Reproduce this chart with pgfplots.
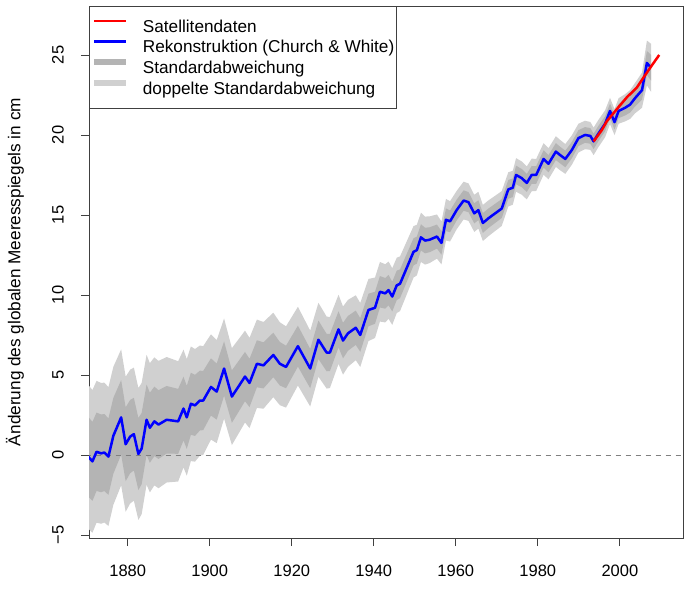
\documentclass[border=0pt]{standalone}
\usepackage{fontspec}
\setmainfont{Liberation Sans}
\usepackage{pgfplots}
\pgfplotsset{compat=1.18}
\usepgfplotslibrary{fillbetween}
\usepackage{pgfplotstable}
\definecolor{band1}{HTML}{B4B4B4}
\definecolor{band2}{HTML}{D0D0D0}
\definecolor{axisgray}{HTML}{404040}
\definecolor{lblue}{HTML}{0000FF}
\definecolor{lred}{HTML}{FF0000}
\newcommand\ff{\fontsize{16.5pt}{19pt}\selectfont}
\newcommand\fl{\fontsize{17.2pt}{20pt}\selectfont}

\pgfplotstableread{
year v s1 s2
1870.0 0.00 2.50 4.50
1871.4 -0.40 2.47 4.46
1872.4 0.20 2.45 4.43
1873.5 0.10 2.43 4.40
1874.3 0.15 2.41 4.37
1875.3 -0.10 2.39 4.34
1876.5 1.20 2.37 4.31
1878.4 2.35 2.33 4.25
1879.5 0.67 2.31 4.22
1880.6 1.15 2.29 4.18
1881.5 1.30 2.27 4.16
1882.6 0.06 2.25 4.12
1883.4 0.40 2.23 4.10
1884.6 2.20 2.20 4.06
1885.4 1.70 2.19 4.04
1886.5 2.10 2.17 4.00
1887.5 1.90 2.15 3.98
1889.5 2.20 2.11 3.92
1892.3 2.10 2.03 3.76
1893.6 2.90 1.99 3.68
1894.4 2.35 1.97 3.64
1895.4 3.20 1.94 3.58
1896.4 3.10 1.91 3.52
1897.6 3.40 1.87 3.44
1898.4 3.40 1.85 3.40
1900.3 4.25 1.79 3.29
1901.7 3.96 1.75 3.22
1903.5 5.40 1.70 3.13
1905.4 3.65 1.64 3.03
1907.0 4.27 1.59 2.95
1908.6 4.90 1.54 2.87
1909.7 4.50 1.51 2.82
1911.5 5.70 1.47 2.76
1913.1 5.60 1.44 2.71
1915.5 6.25 1.39 2.64
1917.1 5.70 1.36 2.59
1918.6 5.50 1.33 2.54
1921.5 6.80 1.28 2.46
1924.5 5.40 1.23 2.37
1926.5 7.20 1.20 2.31
1928.5 6.40 1.17 2.25
1929.3 6.40 1.16 2.22
1931.4 7.85 1.13 2.16
1932.5 7.15 1.11 2.13
1933.7 7.60 1.09 2.09
1935.6 7.95 1.07 2.03
1936.7 7.50 1.05 2.00
1938.7 9.06 1.02 1.94
1940.3 9.20 1.00 1.89
1941.5 10.20 0.98 1.86
1942.8 10.10 0.96 1.82
1943.6 10.30 0.95 1.79
1944.5 9.90 0.93 1.77
1945.6 10.60 0.92 1.73
1946.4 10.70 0.90 1.71
1949.7 12.70 0.85 1.61
1950.5 12.80 0.84 1.58
1951.5 13.60 0.82 1.54
1952.5 13.40 0.80 1.50
1953.6 13.45 0.78 1.46
1955.4 13.65 0.75 1.38
1956.5 13.25 0.73 1.34
1957.6 14.70 0.71 1.30
1958.6 14.60 0.68 1.26
1960.2 15.30 0.65 1.20
1961.9 15.90 0.64 1.18
1963.1 15.80 0.63 1.17
1964.5 15.10 0.63 1.16
1965.5 15.30 0.62 1.15
1966.6 14.50 0.62 1.13
1968.0 14.80 0.61 1.12
1969.6 15.10 0.60 1.10
1971.2 15.40 0.59 1.09
1972.8 16.60 0.59 1.07
1973.9 16.70 0.58 1.06
1974.7 17.50 0.58 1.05
1976.1 17.30 0.57 1.04
1977.3 17.00 0.56 1.03
1978.5 17.50 0.56 1.02
1979.6 17.50 0.55 1.00
1981.4 18.50 0.54 0.99
1982.6 18.20 0.54 0.97
1984.4 18.96 0.53 0.96
1985.4 18.75 0.52 0.95
1986.7 18.50 0.52 0.93
1988.3 19.06 0.51 0.92
1989.9 19.80 0.50 0.90
1991.5 20.00 0.49 0.89
1992.8 19.94 0.49 0.87
1993.6 19.60 0.48 0.86
1994.8 20.10 0.48 0.85
1996.4 20.70 0.47 0.84
1997.6 21.50 0.46 0.82
1998.7 20.80 0.46 0.81
1999.7 21.50 0.45 0.80
2001.3 21.70 0.48 0.85
2002.5 21.90 0.50 0.90
2003.7 22.30 0.52 0.95
2005.4 22.80 0.60 1.10
2006.6 24.50 0.75 1.40
2007.6 24.20 0.80 1.50
}\recon

\pgfplotstableread{
year v
1993.6 19.60
1995.6 20.30
1996.8 20.85
1998.9 21.50
1999.7 21.75
2001.7 22.35
2004.1 22.95
2006.2 23.75
2007.4 24.20
2009.6 25.00
}\sat

\begin{document}
\begin{tikzpicture}
\begin{axis}[
  scale only axis, width=594pt, height=532pt,
  xmin=1870.56, xmax=2015.4, ymin=-5.19, ymax=28.06,
  axis line style={axisgray, line width=0.8pt},
  tick style={axisgray, line width=0.8pt},
  tick align=outside, major tick length=8pt,
  tick pos=left,
  xtick={1880,1900,1920,1940,1960,1980,2000},
  ytick={-5,0,5,10,15,20,25},
  yticklabels={−5,0,5,10,15,20,25},
  /pgf/number format/1000 sep={},
  /pgf/number format/assume math mode=true,
  tick label style={font=\ff},
  xticklabel style={anchor=center, yshift=-25pt},
  yticklabel style={rotate=90, anchor=center, yshift=23pt},
  ylabel={Änderung des globalen Meeresspiegels in cm},
  ylabel style={font=\fl, at={(axis description cs:0,0.5)}, anchor=center, yshift=74pt},
  legend image code/.code={\draw[#1] (0pt,5.5pt) -- (32pt,5.5pt);},
  legend cell align=left,
  reverse legend,
  legend style={at={(0,1)}, anchor=north west, draw=axisgray, line width=0.8pt, fill=white,
    font=\fl, inner xsep=2pt, inner ysep=9.6pt, row sep=0pt,
    nodes={inner xsep=0pt, inner ysep=4.6pt, text height=11.5pt, text depth=0pt},
    /tikz/every odd column/.append style={column sep=14pt}},
]
\addplot[draw=none, name path=u2, forget plot] table[x=year, y expr=\thisrow{v}+\thisrow{s2}] {\recon};
\addplot[draw=none, name path=l2, forget plot] table[x=year, y expr=\thisrow{v}-\thisrow{s2}] {\recon};
\addplot[draw=none, name path=u1, forget plot] table[x=year, y expr=\thisrow{v}+\thisrow{s1}] {\recon};
\addplot[draw=none, name path=l1, forget plot] table[x=year, y expr=\thisrow{v}-\thisrow{s1}] {\recon};
\addplot[fill=band2, draw=none, legend image code/.code={\draw[band2, line width=5.5pt] (0pt,5.5pt) -- (32pt,5.5pt);}] fill between[of=u2 and l2];
\addlegendentry{doppelte Standardabweichung}
\addplot[fill=band1, draw=none, legend image code/.code={\draw[band1, line width=5.5pt] (0pt,5.5pt) -- (32pt,5.5pt);}] fill between[of=u1 and l1];
\addlegendentry{Standardabweichung}
\addplot[gray, line width=0.8pt, dash pattern=on 5pt off 5pt, forget plot] coordinates {(1860,0) (2020,0)};
\addplot[lblue, line width=2.5pt, line join=round, legend image code/.code={\draw[lblue, line width=2.4pt] (0pt,5.5pt) -- (32pt,5.5pt);}] table[x=year, y=v] {\recon};
\addlegendentry{Rekonstruktion (Church \& White)}
\addplot[lred, line width=2.5pt, line join=round, legend image code/.code={\draw[lred, line width=2.4pt] (0pt,5.5pt) -- (32pt,5.5pt);}] table[x=year, y=v] {\sat};
\addlegendentry{Satellitendaten}
\end{axis}
\pgfresetboundingbox
\path[use as bounding box] ([xshift=-89pt,yshift=-53pt]current axis.south west) rectangle ([xshift=9pt,yshift=6pt]current axis.north east);
\end{tikzpicture}
\end{document}
